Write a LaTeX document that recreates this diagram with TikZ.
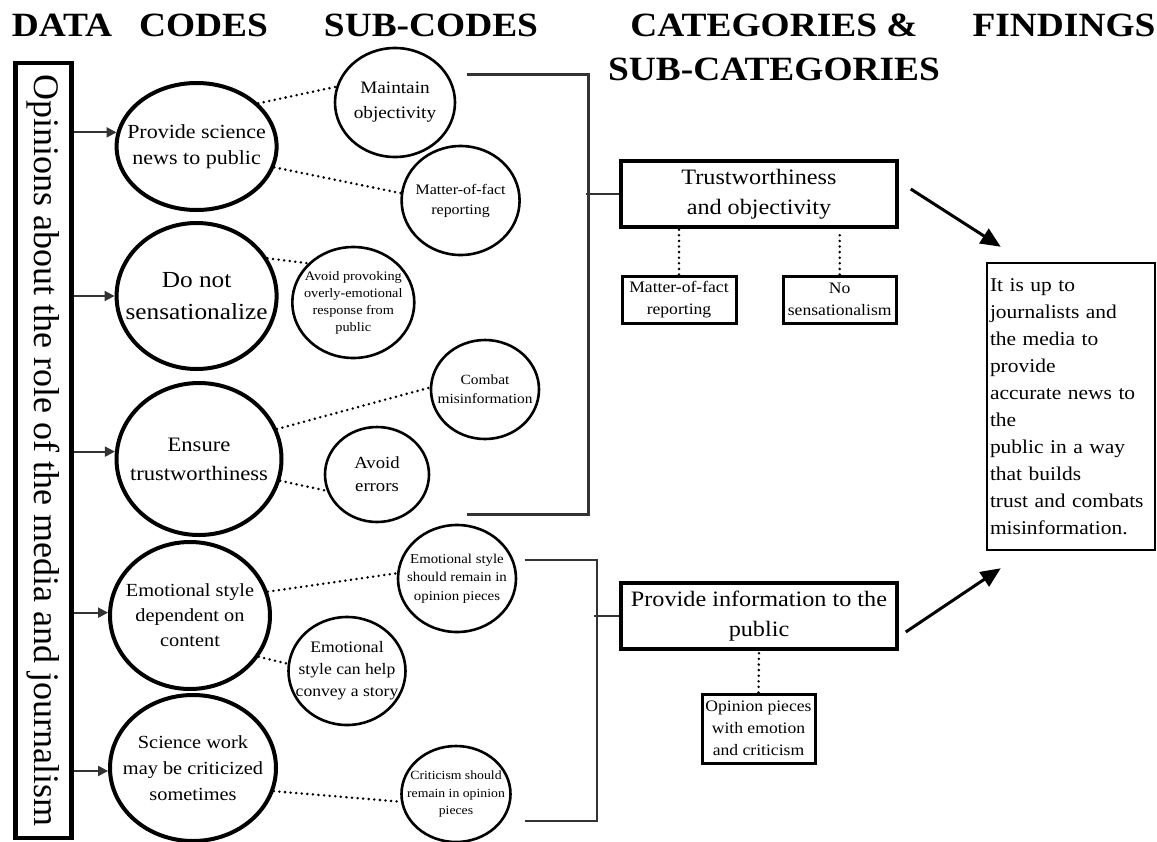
\documentclass[tikz,border=0pt]{standalone}
\usepackage{fontspec}
\setmainfont{Liberation Serif}[FakeStretch=1.1]
\newfontfamily\plainserif{Liberation Serif}
\usetikzlibrary{arrows.meta,shapes.geometric}
\newcommand{\fsz}[2]{\fontsize{#1pt}{#2pt}\selectfont}
\tikzset{
  heading/.style={font=\fsz{34}{44}\bfseries, anchor=base, align=center},
  code/.style={ellipse, draw, line width=4pt, inner sep=0pt},
  subcode/.style={ellipse, draw, line width=2.6pt, inner sep=0pt},
  ctext/.style={align=center, inner sep=0pt},
  catbox/.style={draw, line width=3.5pt, minimum width=276pt, minimum height=66pt, align=center, font=\fsz{22}{30}},
  subcat/.style={draw, line width=3pt, align=center, inner sep=0pt},
  link/.style={line width=2.8pt, line cap=round, dash pattern=on 0pt off 5.6pt},
  bracket/.style={draw=black!80, line width=3pt},
  feed/.style={draw=black!80, line width=2pt, -{Triangle[length=10pt,width=10pt]}},
  result/.style={line width=3pt, -{Triangle[length=20pt,width=17pt]}},
}
\begin{document}
\begin{tikzpicture}[x=1pt,y=-1pt]
  \useasboundingbox (0,0) rectangle (1157,841);
  % column titles
  \node[heading] (hdata) at (62,36) {DATA};
  \node[heading] (hcodes) at (203.5,36) {CODES};
  \node[heading] (hsub) at (431,36) {SUB-CODES};
  \node[heading] (hcat) at (774,80) {CATEGORIES \&\\SUB-CATEGORIES};
  \node[heading] (hfind) at (1064,36) {FINDINGS};

  \node[draw, line width=4.5pt, rotate=-90, minimum width=775pt, minimum height=56pt, inner sep=0pt,
        font=\plainserif\fsz{36}{40}] (opin) at (43.5,450.5)
        {Opinions about the role of the media and journalism};

  % codes
  \node[code, minimum width=160pt, minimum height=127pt,
        label={[ctext,font=\fsz{20}{26}]center:Provide science\\news to public}] (c1) at (196.6,146.5) {};
  \node[code, minimum width=160pt, minimum height=146pt,
        label={[ctext,font=\fsz{23}{32}]center:Do not\\sensationalize}] (c2) at (196.6,296) {};
  \node[code, minimum width=165pt, minimum height=152pt,
        label={[ctext,font=\fsz{20.5}{29}]center:Ensure\\trustworthiness}] (c3) at (199,459) {};
  \node[code, minimum width=160pt, minimum height=147pt,
        label={[ctext,font=\fsz{18.5}{25}]center:Emotional style\\dependent on\\content}] (c4) at (190,615.5) {};
  \node[code, minimum width=166pt, minimum height=146pt,
        label={[ctext,font=\fsz{18.5}{26}]center:Science work\\may be criticized\\sometimes}] (c5) at (193,768) {};

  \draw[feed] (opin.north |- c1.170) -- (c1.170);
  \draw[feed] (opin.north |- c2.west) -- (c2.west);
  \draw[feed] (opin.north |- c3.175) -- (c3.175);
  \draw[feed] (opin.north |- c4.178) -- (c4.178);
  \draw[feed] (opin.north |- c5.182) -- (c5.182);

  % sub-codes
  \node[subcode, minimum width=120pt, minimum height=109pt,
        label={[ctext,font=\fsz{17.5}{25}]center:Maintain\\objectivity}] (sa) at (395,102.5) {};
  \node[subcode, minimum width=118pt, minimum height=109pt,
        label={[ctext,font=\fsz{14.5}{20}]center:Matter-of-fact\\reporting}] (sb) at (460.6,200.5) {};
  \node[subcode, minimum width=122pt, minimum height=111pt,
        label={[ctext,font=\fsz{13}{17}]center:Avoid provoking\\overly-emotional\\response from\\public}] (sc) at (353.3,302.5) {};
  \node[subcode, minimum width=108pt, minimum height=99pt,
        label={[ctext,font=\fsz{14}{19}]center:Combat\\misinformation}] (sd) at (485,389.5) {};
  \node[subcode, minimum width=104pt, minimum height=95pt,
        label={[ctext,font=\fsz{17}{23}]center:Avoid\\errors}] (se) at (377,474.5) {};
  \node[subcode, minimum width=118pt, minimum height=107pt,
        label={[ctext,font=\fsz{13.5}{18.5}]center:Emotional style\\should remain in\\opinion pieces}] (sf) at (457,578.5) {};
  \node[subcode, minimum width=117pt, minimum height=108pt,
        label={[ctext,font=\fsz{16}{22}]center:Emotional\\style can help\\convey a story}] (sg) at (347,671) {};
  \node[subcode, minimum width=109pt, minimum height=96pt,
        label={[ctext,font=\fsz{12.5}{17.5}]center:Criticism should\\remain in opinion\\pieces}] (sh) at (456,794) {};

  \draw[link] (c1.35) -- (sa.165);
  \draw[link] (c1.-15) -- (sb.173);
  \draw[link] (c2.28) -- (sc.139);
  \draw[link] (c3.21) -- (sd.178);
  \draw[link] (c3.-15) -- (se.198);
  \draw[link] (c4.17) -- (sf.175);
  \draw[link] (c4.-31) -- (sg.173);
  \draw[link] (c5.-16) -- (sh.188);

  % categories
  \node[catbox] (trust) at (759,194) {Trustworthiness\\and objectivity};
  \node[catbox] (info) at (759,616) {Provide information to the\\public};
  \node[subcat, minimum width=114pt, minimum height=47pt, font=\fsz{16}{22}] (mof) at (679,299.5) {Matter-of-fact\\reporting};
  \node[subcat, minimum width=113pt, minimum height=47pt, font=\fsz{16}{22}] (nos) at (839.7,299.5) {No\\sensationalism};
  \node[subcat, minimum width=113pt, minimum height=69pt, font=\fsz{16}{22}] (opp) at (758.5,728.5) {Opinion pieces\\with emotion\\and criticism};

  \draw[link] (mof.north) -- (mof.north |- trust.south);
  \draw[link] (nos.north) -- ([yshift=-6pt]nos.north |- trust.south);
  \draw[link] (opp.north) -- (info.south);

  \coordinate (topA) at (466.5,74);
  \coordinate (botA) at (466.5,514);
  \coordinate (topB) at (524.6,560);
  \coordinate (botB) at (524.6,821);
  \draw[bracket] (topA) -- ++(122,0) |- (botA);
  \draw[bracket, line width=2pt] (trust.west) -- ++(-33,0);
  \draw[bracket, line width=2.2pt] (topB) -- ++(72,0) |- (botB);
  \draw[bracket, line width=2pt] (info.west) -- ++(-25,0);

  % findings
  \node[draw, line width=2.5pt, minimum width=168pt, minimum height=287pt, text width=162pt,
        inner sep=2pt, align=left, font=\fsz{19.5}{27}] (find) at (1071,406.5)
        {It is up to\\journalists and\\the media to\\provide\\accurate news to\\the\\public in a way\\that builds\\trust and combats\\misinformation.};

  \draw[result] ([shift={(12,-5)}]trust.east) -- ([shift={(15,-15)}]find.north west);
  \draw[result] ([shift={(7,16)}]info.east) -- ([shift={(15,17)}]find.south west);
\end{tikzpicture}
\end{document}
